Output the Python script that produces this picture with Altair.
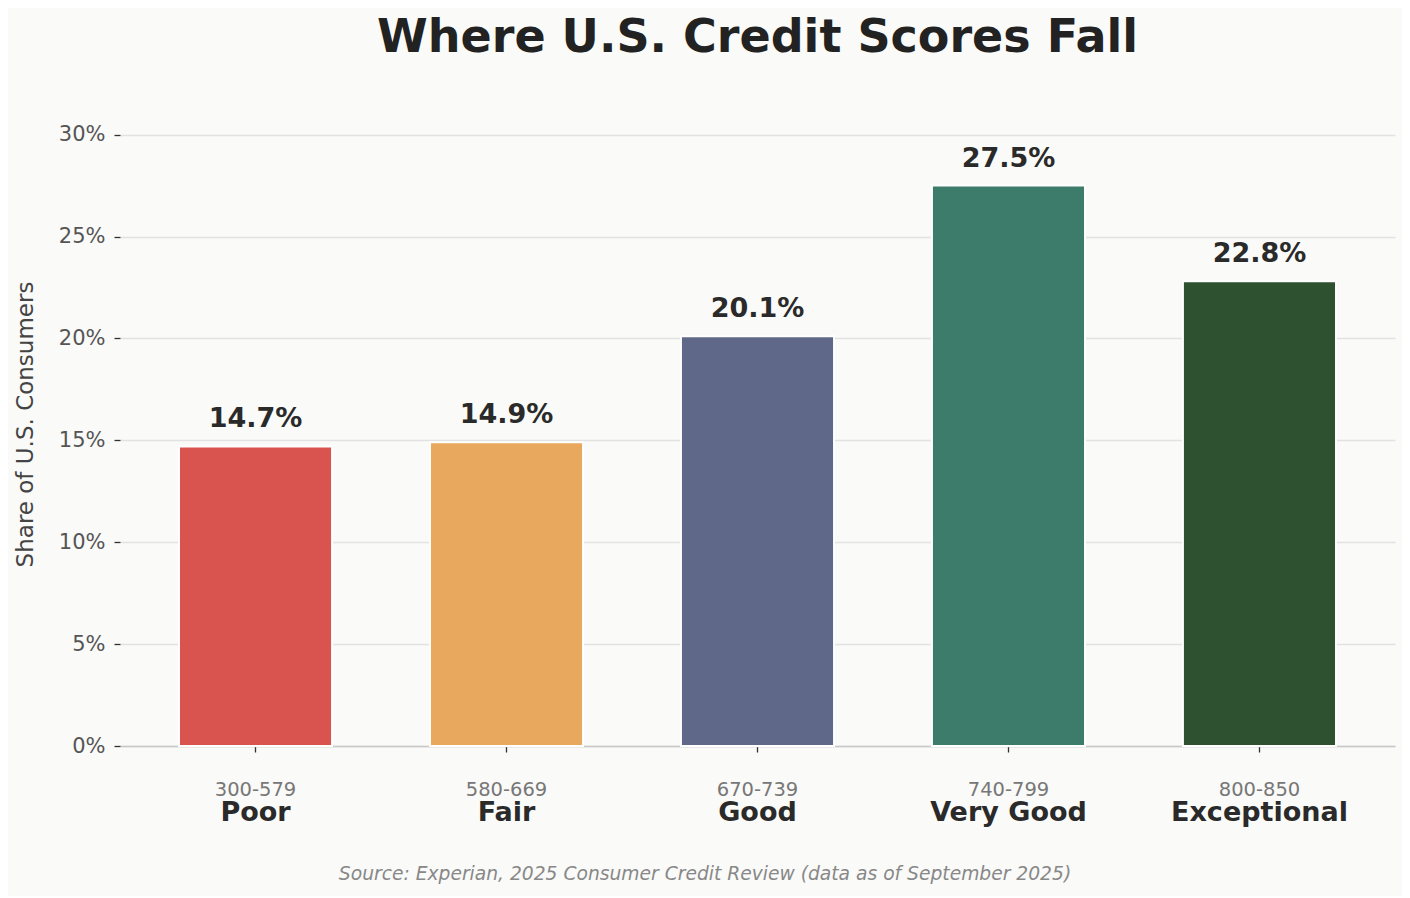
import altair as alt
import pandas as pd

categorias = ["Poor", "Fair", "Good", "Very Good", "Exceptional"]
faixas = ["300-579", "580-669", "670-739", "740-799", "800-850"]
percentuais = [14.7, 14.9, 20.1, 27.5, 22.8]
cores = ["#D9534F", "#E8A85D", "#5F6889", "#3D7C6A", "#2E5230"]

df = pd.DataFrame({
    "categoria": categorias,
    "faixa": faixas,
    "pct": percentuais,
    "cor": cores,
})
df["rotulo"] = df["pct"].map(lambda v: f"{v:.1f}%")

W = 1275
H = 644

x_enc = alt.X(
    "faixa:N",
    sort=faixas,
    title=None,
    scale=alt.Scale(paddingInner=0.39, paddingOuter=0.235),
    axis=alt.Axis(
        labelAngle=0, labelFont="DejaVu Sans", labelFontSize=19.5,
        labelColor="#777777", labelPadding=28, tickSize=6,
        tickColor="#333333", tickWidth=1.3, domainColor="#c8c8c8",
        domainWidth=1.5, grid=False,
    ),
)

y_enc = alt.Y(
    "pct:Q",
    title="Share of U.S. Consumers",
    scale=alt.Scale(domain=[0, 31.6], nice=False),
    axis=alt.Axis(
        values=[0, 5, 10, 15, 20, 25, 30],
        labelExpr="datum.value + '%'",
        labelFont="DejaVu Sans", labelFontSize=21, labelColor="#555555",
        labelPadding=9, tickSize=6, tickColor="#333333", tickWidth=1.3,
        domain=False, gridColor="#e2e2e2", gridWidth=1.5,
        titleFont="DejaVu Sans", titleFontSize=23, titleFontWeight="normal",
        titleColor="#444444", titlePadding=21,
    ),
)

barras = alt.Chart(df).mark_bar(stroke="white", strokeWidth=2).encode(
    x=x_enc,
    y=y_enc,
    color=alt.Color("cor:N", scale=None),
)

valores = alt.Chart(df).mark_text(
    font="DejaVu Sans", fontSize=27, fontWeight="bold", color="#2a2a2a",
    baseline="alphabetic", dy=-19,
).encode(
    x=alt.X("faixa:N", sort=faixas),
    y="pct:Q",
    text="rotulo:N",
)

nomes = alt.Chart(df).mark_text(
    font="DejaVu Sans", fontSize=27, fontWeight="bold", color="#2a2a2a",
    baseline="alphabetic",
).encode(
    x=alt.X("faixa:N", sort=faixas),
    y=alt.value(719),
    text="categoria:N",
)

fonte = alt.Chart(pd.DataFrame({"t": ["Source: Experian, 2025 Consumer Credit Review (data as of September 2025)"]})).mark_text(
    font="DejaVu Sans", fontSize=18.7, fontStyle="italic", color="#888888",
    baseline="alphabetic",
).encode(
    x=alt.value(585),
    y=alt.value(778),
    text="t:N",
)

chart = alt.layer(barras, valores, nomes, fonte).properties(
    width=W,
    height=H,
    title=alt.TitleParams(
        "Where U.S. Credit Scores Fall",
        font="DejaVu Sans", fontSize=46, fontWeight="bold",
        color="#222222", anchor="middle", offset=40,
    ),
    background="#FAFAF8",
    autosize=alt.AutoSizeParams(type="none"),
    padding={"left": 112, "top": 94, "right": 7, "bottom": 150},
).configure_view(stroke=None)

chart.save("out.html", embed_options={"renderer": "svg", "actions": False})
